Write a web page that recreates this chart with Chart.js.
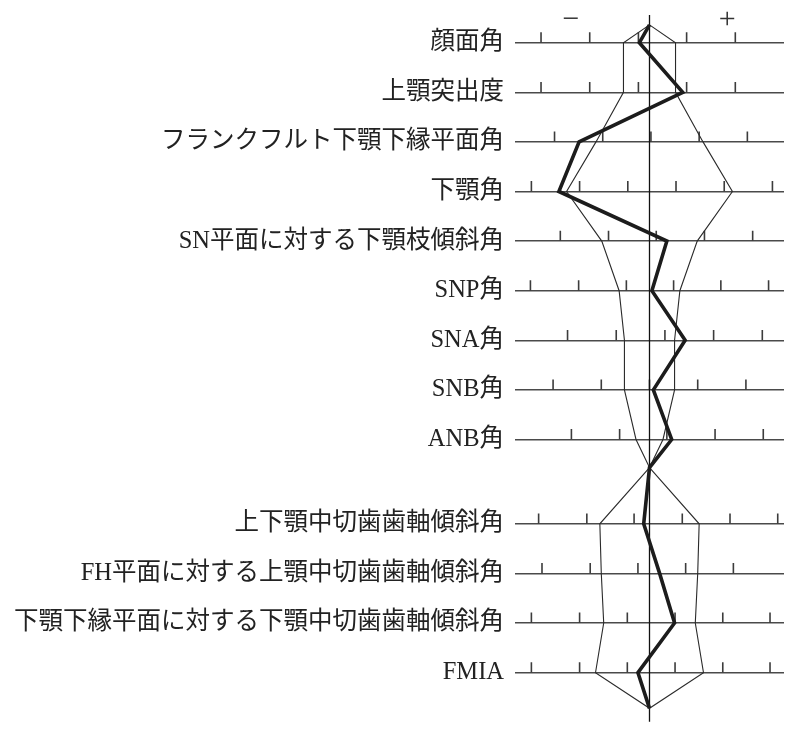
<!DOCTYPE html>
<html lang="ja">
<head>
<meta charset="UTF-8">
<title>ポリゴン表</title>
<script src="https://cdn.jsdelivr.net/npm/chart.js@4.4.1/dist/chart.umd.min.js"></script>
<style>
  html, body { margin: 0; padding: 0; background: #fff; }
  #chart-wrap { width: 797px; height: 737px; }
</style>
</head>
<body>
<div id="chart-wrap"><canvas id="polygon-chart" width="797" height="737"></canvas></div>
<script>
// ===================================
// Data (x in scale units, 0 = mean)
// ===================================

// skeletal items (upper block)
const upperLabels = [
    '顔面角',
    '上顎突出度',
    'フランクフルト下顎下縁平面角',
    '下顎角',
    'SN平面に対する下顎枝傾斜角',
    'SNP角',
    'SNA角',
    'SNB角',
    'ANB角'
];

// dental items (lower block)
const lowerLabels = [
    '上下顎中切歯歯軸傾斜角',
    'FH平面に対する上顎中切歯歯軸傾斜角',
    '下顎下縁平面に対する下顎中切歯歯軸傾斜角',
    'FMIA'
];

// half width of the normal range (±1 SD)
const upperSD = [0.54, 0.54, 1.11, 1.72, 0.99, 0.63, 0.52, 0.52, 0.28];
const lowerSD = [1.03, 1.00, 0.95, 1.12];

// patient
const upperPatient = [-0.21, 0.69, -1.46, -1.88, 0.36, 0.05, 0.74, 0.08, 0.46];
const lowerPatient = [-0.12, 0.21, 0.52, -0.24];

// scale marks on every item line
const upperTicks = [
    [-2.25, -1.24, -0.23, 0.77, 1.78],
    [-2.25, -1.24, -0.23, 0.77, 1.78],
    [-1.97, -0.97, 0.03, 1.03, 2.03],
    [-2.45, -1.45, -0.45, 0.55, 1.55, 2.55],
    [-1.85, -0.85, 0.14, 1.14, 2.14],
    [-2.47, -1.47, -0.48, 0.50, 1.48, 2.47],
    [-1.70, -0.69, 0.32, 1.33, 2.34],
    [-2.00, -1.00, 0.00, 1.00, 2.00],
    [-1.62, -0.62, 0.36, 1.36, 2.36]
];
const lowerTicks = [
    [-2.30, -1.30, -0.32, 0.68, 1.67, 2.66],
    [-2.23, -1.23, -0.24, 0.75, 1.74],
    [-2.45, -1.45, -0.46, 0.53, 1.52, 2.50],
    [-2.45, -1.45, -0.46, 0.53, 1.52, 2.50]
];

const signLabels = ['−', '+'];
const signValues = [-1.63, 1.61];

// ===================================
// Layout (y in row units)
// ===================================

const BLOCK_GAP = 0.7;      // extra space between the two blocks
const TOP_APEX = -0.36;
const CROSS_OFFSET = 0.565; // below the last upper row
const BOTTOM_APEX = 0.72;   // below the last lower row
const TICK_HEIGHT = 0.21;
const SIGN_ROW = -0.46;
const LABEL_FONT = "'Liberation Serif', 'Noto Sans CJK JP', serif";

const upperY = upperLabels.map((_, i) => i);
const lowerY = lowerLabels.map((_, i) => upperLabels.length + BLOCK_GAP + i);
const crossY = upperY[upperY.length - 1] + CROSS_OFFSET;
const bottomY = lowerY[lowerY.length - 1] + BOTTOM_APEX;

const rowLabels = upperLabels.concat(lowerLabels);
const rowY = upperY.concat(lowerY);

function rangePolygon(rows, sd, startY, endY) {
    const right = rows.map((y, i) => ({ x: sd[i], y }));
    const left = rows.map((y, i) => ({ x: -sd[i], y })).reverse();
    return [{ x: 0, y: startY }, ...right, { x: 0, y: endY }, ...left, { x: 0, y: startY }];
}

function tickSegments() {
    const pts = [];
    upperTicks.concat(lowerTicks).forEach((row, i) => {
        row.forEach(t => {
            pts.push({ x: t, y: rowY[i] });
            pts.push({ x: t, y: rowY[i] - TICK_HEIGHT });
            pts.push({ x: t, y: null });
        });
    });
    return pts;
}

const patientLine = [
    { x: 0, y: TOP_APEX },
    ...upperY.map((y, i) => ({ x: upperPatient[i], y })),
    { x: 0, y: crossY },
    ...lowerY.map((y, i) => ({ x: lowerPatient[i], y })),
    { x: 0, y: bottomY }
];

// "−" and "+" above the first line
const signPlugin = {
    id: 'signs',
    afterDatasetsDraw(chart) {
        const { ctx, scales } = chart;
        ctx.save();
        ctx.font = "30px 'Liberation Serif', serif";
        ctx.fillStyle = '#333';
        ctx.textAlign = 'center';
        ctx.textBaseline = 'middle';
        signLabels.forEach((s, i) => {
            ctx.fillText(s, scales.x.getPixelForValue(signValues[i]), scales.y.getPixelForValue(SIGN_ROW));
        });
        ctx.restore();
    }
};

const ctx = document.getElementById('polygon-chart').getContext('2d');

new Chart(ctx, {
    type: 'scatter',
    data: {
        datasets: [
            {
                label: 'patient',
                data: patientLine,
                showLine: true,
                borderColor: '#1c1c1c',
                borderWidth: 3.6,
                borderJoinStyle: 'miter'
            },
            {
                label: 'normal-upper',
                data: rangePolygon(upperY, upperSD, TOP_APEX, crossY),
                showLine: true,
                borderColor: '#2a2a2a',
                borderWidth: 1.1
            },
            {
                label: 'normal-lower',
                data: rangePolygon(lowerY, lowerSD, crossY, bottomY),
                showLine: true,
                borderColor: '#2a2a2a',
                borderWidth: 1.1
            },
            {
                label: 'center',
                data: [{ x: 0, y: -0.56 }, { x: 0, y: 13.69 }],
                showLine: true,
                borderColor: '#111',
                borderWidth: 1.3
            },
            {
                label: 'ticks',
                data: tickSegments(),
                showLine: true,
                spanGaps: false,
                borderColor: '#3c3c3c',
                borderWidth: 1.6
            }
        ]
    },
    options: {
        responsive: false,
        animation: false,
        devicePixelRatio: 1,
        layout: { padding: { top: 5, right: 13, bottom: 7, left: 0 } },
        elements: { point: { radius: 0, hoverRadius: 0 } },
        plugins: {
            legend: { display: false },
            tooltip: { enabled: false }
        },
        scales: {
            x: {
                type: 'linear',
                display: false,
                min: -2.79,
                max: 2.79
            },
            y: {
                type: 'linear',
                position: 'left',
                reverse: true,
                min: -0.76,
                max: 13.857,
                afterBuildTicks: (scale) => {
                    scale.ticks = rowY.map(v => ({ value: v }));
                },
                afterFit: (scale) => {
                    // labels sit well inside the area, no end padding needed
                    scale.width = 515;
                    scale.paddingTop = 0;
                    scale.paddingBottom = 0;
                },
                border: { display: false },
                grid: { color: '#4a4a4a', lineWidth: 1.5, drawTicks: false },
                ticks: {
                    autoSkip: false,
                    padding: 11,
                    color: '#222',
                    font: { family: LABEL_FONT, size: 24.5 },
                    callback: (value, index) => rowLabels[index]
                }
            }
        }
    },
    plugins: [signPlugin]
});
</script>
</body>
</html>
